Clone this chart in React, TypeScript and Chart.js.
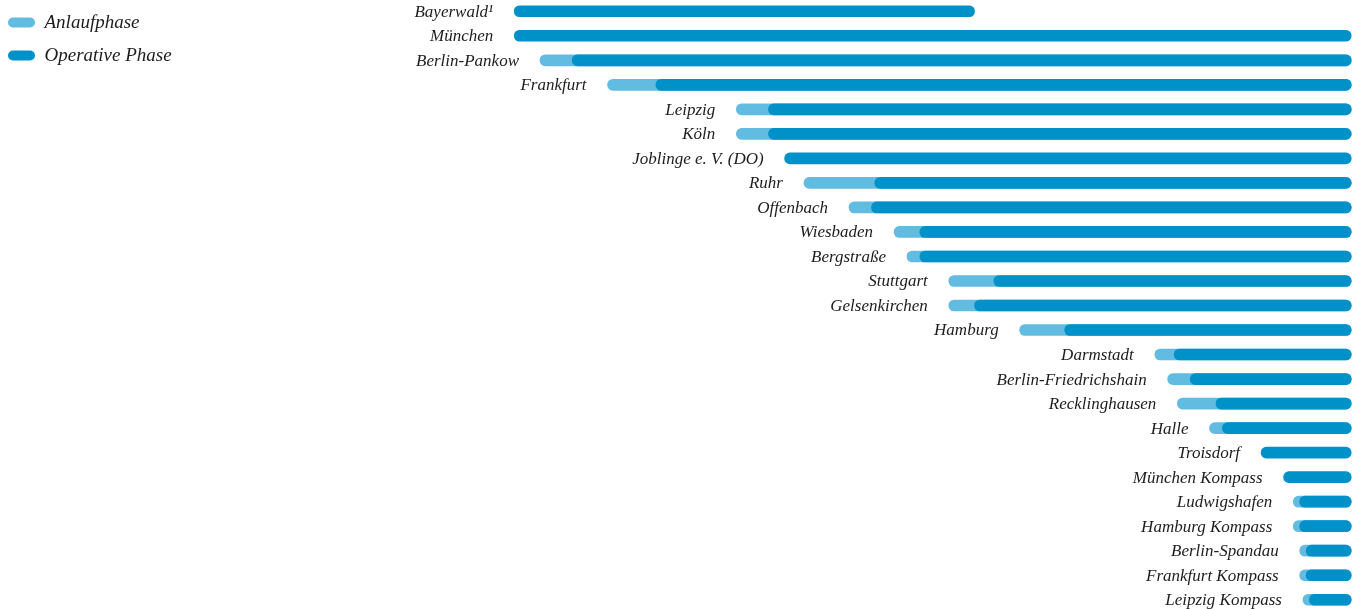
import React, { useEffect, useRef } from "react";
import Chart from "chart.js/auto";

const categories = [
  "Bayerwald¹", "München", "Berlin-Pankow", "Frankfurt", "Leipzig", "Köln",
  "Joblinge e. V. (DO)", "Ruhr", "Offenbach", "Wiesbaden", "Bergstraße",
  "Stuttgart", "Gelsenkirchen", "Hamburg", "Darmstadt", "Berlin-Friedrichshain",
  "Recklinghausen", "Halle", "Troisdorf", "München Kompass", "Ludwigshafen",
  "Hamburg Kompass", "Berlin-Spandau", "Frankfurt Kompass", "Leipzig Kompass",
];

// start of the Anlaufphase (null = none shown)
const anlaufStart: (number | null)[] = [
  null, null, 2008.4, 2009.45, 2011.45, 2011.45, null, 2012.5, 2013.2, 2013.9,
  2014.1, 2014.75, 2014.75, 2015.85, 2017.95, 2018.15, 2018.3, 2018.8, null, null,
  2020.1, 2020.1, 2020.2, 2020.2, 2020.25,
];

// start of the Operative Phase
const operativeStart: number[] = [
  2008.0, 2008.0, 2008.9, 2010.2, 2011.95, 2011.95, 2012.2, 2013.6, 2013.55, 2014.3,
  2014.3, 2015.45, 2015.15, 2016.55, 2018.25, 2018.5, 2018.9, 2019.0, 2019.6, 2019.95,
  2020.2, 2020.2, 2020.3, 2020.3, 2020.35,
];

// end of the Operative Phase
const operativeEnd: number[] = [
  2015.15, 2021, 2021, 2021, 2021, 2021, 2021, 2021, 2021, 2021,
  2021, 2021, 2021, 2021, 2021, 2021, 2021, 2021, 2021, 2021,
  2021, 2021, 2021, 2021, 2021,
];

const seriesLabels = ["Anlaufphase", "Operative Phase"];

const LIGHT = "#62bbe1";
const DARK = "#0091c9";
const TEXT = "#1f1c1d";
const FONT = "'Liberation Serif', 'DejaVu Serif', serif";

const startLabelsPlugin = {
  id: "startLabels",
  afterDatasetsDraw(chart: any) {
    const { ctx, scales } = chart;
    const xs = scales.x;
    const ys = scales.y;
    ctx.save();
    ctx.font = `italic 17px ${FONT}`;
    ctx.fillStyle = TEXT;
    ctx.textAlign = "right";
    ctx.textBaseline = "middle";
    categories.forEach((name, i) => {
      const a = anlaufStart[i];
      const s = a != null ? Math.min(a, operativeStart[i]) : operativeStart[i];
      const px = xs.getPixelForValue(s);
      const py = ys.getPixelForValue(i);
      ctx.fillText(name, px - 21, py + 1);
    });
    ctx.restore();
  },
};

export default function App() {
  const ref = useRef<HTMLCanvasElement | null>(null);

  useEffect(() => {
    if (!ref.current) return;
    const lightData = categories.map((_, i) =>
      anlaufStart[i] != null ? [anlaufStart[i] as number, operativeEnd[i]] : null
    );
    const darkData = categories.map((_, i) => [operativeStart[i], operativeEnd[i]]);

    const chart = new Chart(ref.current, {
      type: "bar",
      data: {
        labels: categories,
        datasets: [
          {
            label: seriesLabels[0],
            data: lightData as any,
            backgroundColor: LIGHT,
            borderRadius: 20,
            borderSkipped: false,
            barThickness: 11,
            grouped: false,
            order: 1,
          },
          {
            label: seriesLabels[1],
            data: darkData as any,
            backgroundColor: DARK,
            borderRadius: 20,
            borderSkipped: false,
            barThickness: 11,
            grouped: false,
            order: 0,
          },
        ],
      },
      options: {
        indexAxis: "y",
        animation: false,
        responsive: true,
        maintainAspectRatio: false,
        layout: { padding: 0 },
        scales: {
          x: { type: "linear", min: 1999.92, max: 2021.09, display: false },
          y: { type: "category", offset: true, display: false },
        },
        plugins: {
          tooltip: { enabled: false },
          legend: {
            position: "chartArea",
            align: "start",
            labels: {
              boxWidth: 27,
              boxHeight: 10,
              useBorderRadius: true,
              borderRadius: 5,
              color: TEXT,
              padding: 14,
              font: { family: FONT, style: "italic", size: 19 },
              sort: (a: any, b: any) => a.datasetIndex - b.datasetIndex,
            },
          },
        },
      },
      plugins: [startLabelsPlugin],
    });
    return () => chart.destroy();
  }, []);

  return (
    <div
      style={{
        position: "fixed",
        left: -6,
        top: -1,
        width: 1363,
        height: 613,
      }}
    >
      <canvas ref={ref} style={{ display: "block" }} />
    </div>
  );
}
